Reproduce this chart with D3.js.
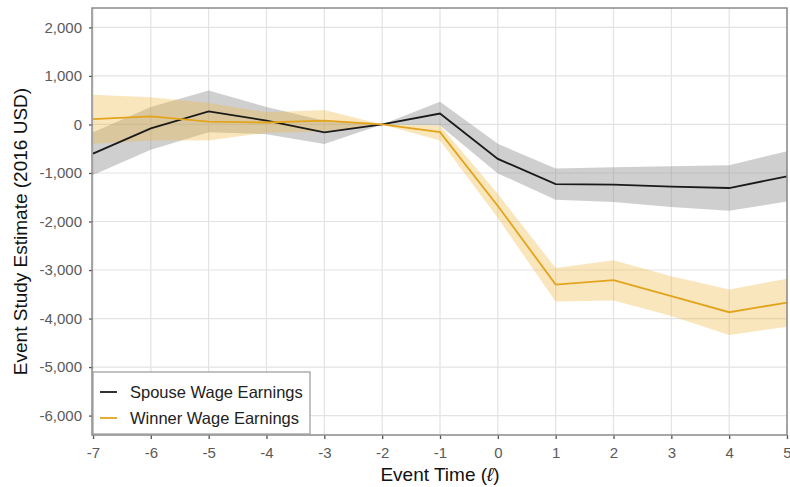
<!DOCTYPE html>
<html>
<head>
<meta charset="utf-8">
<script src="https://cdn.jsdelivr.net/npm/d3@7"></script>
<style>
  html, body { margin: 0; padding: 0; background: #fff; }
  svg { display: block; font-family: "Liberation Sans", Arial, sans-serif; }
</style>
</head>
<body>
<svg id="chart" width="790" height="487"></svg>
<script>
// ---- data ----
const eventTimes = [-7, -6, -5, -4, -3, -2, -1, 0, 1, 2, 3, 4, 5];
const spouseEst   = [-600, -80, 270, 80, -165, 0, 225, -710, -1230, -1240, -1280, -1310, -1070];
const spouseLower = [-1040, -520, -160, -200, -405, 0, -20, -1010, -1550, -1600, -1700, -1780, -1590];
const spouseUpper = [-160, 360, 700, 360, 75, 0, 470, -400, -910, -880, -860, -840, -550];
const winnerEst   = [110, 165, 60, 40, 80, 0, -160, -1680, -3300, -3210, -3540, -3870, -3670];
const winnerLower = [-400, -330, -330, -170, -150, 0, -330, -1930, -3650, -3630, -3950, -4340, -4170];
const winnerUpper = [610, 560, 440, 250, 300, 0, -20, -1430, -2960, -2800, -3130, -3400, -3180];
const yTicks = [2000, 1000, 0, -1000, -2000, -3000, -4000, -5000, -6000];
const seriesNames = ["Spouse Wage Earnings", "Winner Wage Earnings"];
const seriesColors = ["#1a1a1a", "#E2A41C"];
const bandColors = ["#8c8c8c", "#F0B840"];
const bandOpacity = [0.42, 0.35];

// ---- layout ----
const svg = d3.select("#chart");
const pL = 93, pR = 787, pT = 8, pB = 435;

const x = d3.scaleLinear().domain([-7, 5]).range([pL, pR]);
const y = d3.scaleLinear().domain([-6400, 2400]).range([pB, pT]);
const hyphen = f => d => f(d).replace("\u2212", "-");

// grid
const grid = svg.append("g");
grid.selectAll("line.v").data(eventTimes).join("line")
  .attr("x1", d => x(d)).attr("x2", d => x(d))
  .attr("y1", pT).attr("y2", pB)
  .attr("stroke", "#e3e3e3").attr("stroke-width", 1.2);
grid.selectAll("line.h").data(yTicks).join("line")
  .attr("y1", d => y(d)).attr("y2", d => y(d))
  .attr("x1", pL).attr("x2", pR)
  .attr("stroke", "#e3e3e3").attr("stroke-width", 1.2);

const series = [
  {est: spouseEst, lo: spouseLower, hi: spouseUpper},
  {est: winnerEst, lo: winnerLower, hi: winnerUpper}
];

const area = d3.area()
  .x(d => x(d.t)).y0(d => y(d.lo)).y1(d => y(d.hi));
const line = d3.line().x(d => x(d.t)).y(d => y(d.v));

series.forEach((s, i) => {
  const pts = eventTimes.map((t, j) => ({t, lo: s.lo[j], hi: s.hi[j]}));
  svg.append("path").datum(pts).attr("d", area)
    .attr("fill", bandColors[i]).attr("fill-opacity", bandOpacity[i]);
});
series.forEach((s, i) => {
  const pts = eventTimes.map((t, j) => ({t, v: s.est[j]}));
  svg.append("path").datum(pts).attr("d", line)
    .attr("fill", "none").attr("stroke", seriesColors[i]).attr("stroke-width", 1.8);
});

// axes
const xAxis = d3.axisBottom(x).tickValues(eventTimes).tickSize(4).tickPadding(8)
  .tickFormat(hyphen(d3.format("d")));
const gx = svg.append("g").attr("transform", `translate(0,${pB})`).call(xAxis);
const yAxis = d3.axisLeft(y).tickValues(yTicks).tickSize(4).tickPadding(7)
  .tickFormat(hyphen(d3.format(",")));
const gy = svg.append("g").attr("transform", `translate(${pL},0)`).call(yAxis);
[gx, gy].forEach(g => {
  g.select(".domain").remove();
  g.selectAll(".tick line").attr("stroke", "#555").attr("stroke-width", 1.3);
  g.selectAll(".tick text").attr("fill", "#5a5a5a").attr("font-size", 15)
    .attr("font-family", "Liberation Sans, Arial, sans-serif");
});

// panel border
svg.append("rect").attr("x", pL - 1).attr("y", pT).attr("width", pR - pL + 1).attr("height", pB - pT)
  .attr("fill", "none").attr("stroke", "#8a8a8a").attr("stroke-width", 1.5);

// axis titles
svg.append("text").attr("x", x(-1)).attr("y", 481).attr("text-anchor", "middle")
  .attr("font-size", 19).attr("fill", "#111")
  .html('Event Time (<tspan font-style="italic">ℓ</tspan>)');
svg.append("text").attr("transform", `translate(27,${(pT + pB) / 2 + 10}) rotate(-90)`)
  .attr("text-anchor", "middle").attr("font-size", 19).attr("fill", "#111")
  .text("Event Study Estimate (2016 USD)");

// legend
const lg = svg.append("g");
lg.append("rect").attr("x", pL).attr("y", 372).attr("width", 217).attr("height", 62)
  .attr("fill", "#fff").attr("stroke", "#999").attr("stroke-width", 1.2);
seriesNames.forEach((n, i) => {
  const ly = 392 + i * 26;
  lg.append("line").attr("x1", 100).attr("x2", 117).attr("y1", ly).attr("y2", ly)
    .attr("stroke", seriesColors[i]).attr("stroke-width", 1.8);
  lg.append("text").attr("x", 130).attr("y", ly + 6).attr("font-size", 16.5).attr("fill", "#222").text(n);
});
</script>
</body>
</html>
